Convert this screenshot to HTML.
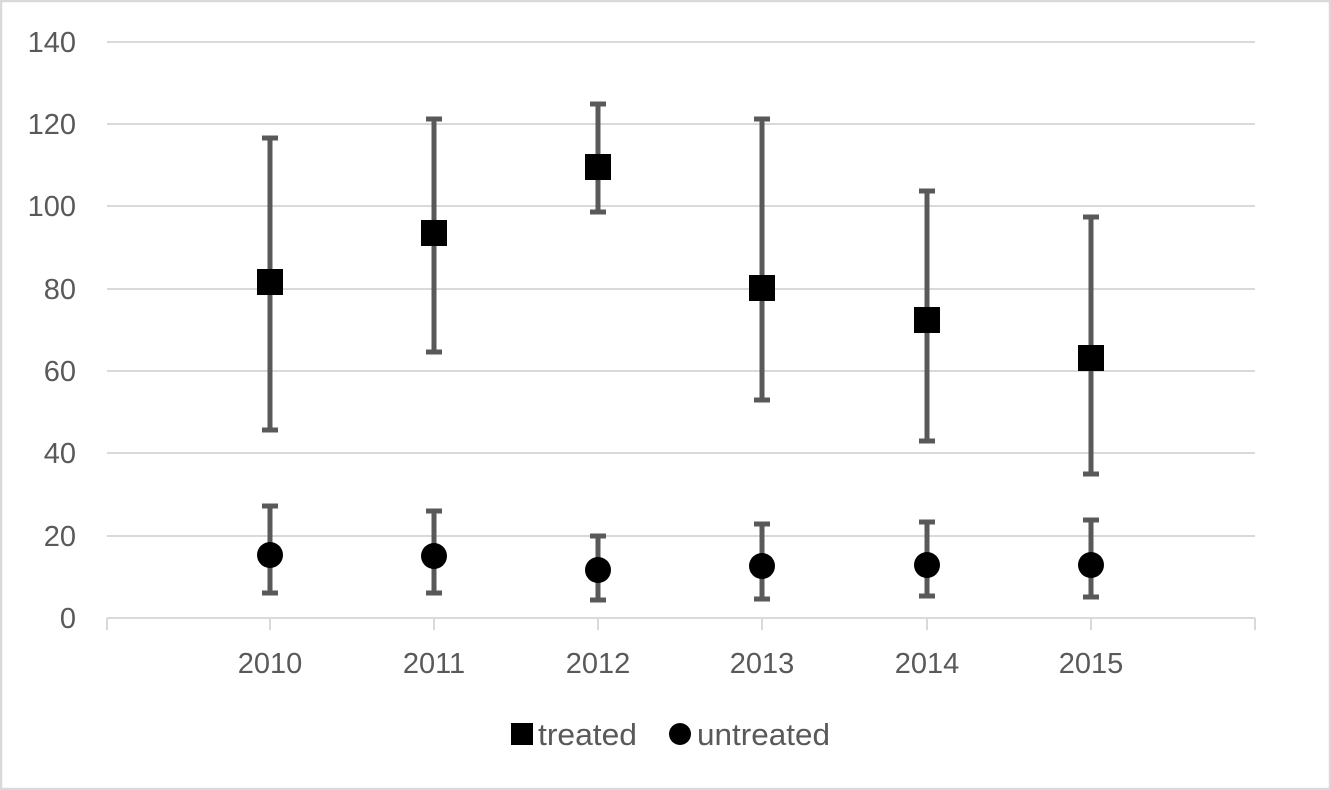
<!DOCTYPE html>
<html><head><meta charset="utf-8"><style>
html,body{margin:0;padding:0;background:#fff;}
svg{display:block;}
text{font-family:"Liberation Sans",sans-serif;fill:#595959;}
</style></head><body>
<svg width="1331" height="790" viewBox="0 0 1331 790" xmlns="http://www.w3.org/2000/svg">
<rect x="1" y="1" width="1329" height="788" fill="#fff" stroke="#d9d9d9" stroke-width="2.5"/>
<g stroke="#d9d9d9" stroke-width="2">
<line x1="107" y1="42" x2="1255" y2="42"/>
<line x1="107" y1="124" x2="1255" y2="124"/>
<line x1="107" y1="206" x2="1255" y2="206"/>
<line x1="107" y1="289" x2="1255" y2="289"/>
<line x1="107" y1="371" x2="1255" y2="371"/>
<line x1="107" y1="453" x2="1255" y2="453"/>
<line x1="107" y1="536" x2="1255" y2="536"/>
<line x1="107" y1="618" x2="1255" y2="618"/>
<line x1="107" y1="618" x2="107" y2="630"/>
<line x1="270" y1="618" x2="270" y2="630"/>
<line x1="434" y1="618" x2="434" y2="630"/>
<line x1="598" y1="618" x2="598" y2="630"/>
<line x1="762" y1="618" x2="762" y2="630"/>
<line x1="927" y1="618" x2="927" y2="630"/>
<line x1="1091" y1="618" x2="1091" y2="630"/>
<line x1="1255" y1="618" x2="1255" y2="630"/>
</g>
<g font-size="29" text-anchor="end">
<text x="76" y="52">140</text>
<text x="76" y="134">120</text>
<text x="76" y="216">100</text>
<text x="76" y="299">80</text>
<text x="76" y="381">60</text>
<text x="76" y="463">40</text>
<text x="76" y="546">20</text>
<text x="76" y="628">0</text>
</g>
<g font-size="29" text-anchor="middle">
<text x="270" y="673">2010</text>
<text x="434" y="673">2011</text>
<text x="598" y="673">2012</text>
<text x="762" y="673">2013</text>
<text x="927" y="673">2014</text>
<text x="1091" y="673">2015</text>
</g>
<g stroke="#595959" stroke-width="5" fill="none">
<path d="M270 138V430M262 138H278M262 430H278"/>
<path d="M434 119V352M426 119H442M426 352H442"/>
<path d="M598 104V212M590 104H606M590 212H606"/>
<path d="M762 119V400M754 119H770M754 400H770"/>
<path d="M927 191V441M919 191H935M919 441H935"/>
<path d="M1091 217V474M1083 217H1099M1083 474H1099"/>
<path d="M270 506V593M262 506H278M262 593H278"/>
<path d="M434 511V593M426 511H442M426 593H442"/>
<path d="M598 536V600M590 536H606M590 600H606"/>
<path d="M762 524V599M754 524H770M754 599H770"/>
<path d="M927 522V596M919 522H935M919 596H935"/>
<path d="M1091 520V597M1083 520H1099M1083 597H1099"/>
</g>
<g fill="#000">
<rect x="257" y="269" width="26" height="26"/>
<rect x="421" y="220" width="26" height="26"/>
<rect x="585" y="154" width="26" height="26"/>
<rect x="749" y="275" width="26" height="26"/>
<rect x="914" y="307" width="26" height="26"/>
<rect x="1078" y="345" width="26" height="26"/>
<circle cx="270" cy="555" r="13"/>
<circle cx="434" cy="556" r="13"/>
<circle cx="598" cy="570" r="13"/>
<circle cx="762" cy="566" r="13"/>
<circle cx="927" cy="565" r="13"/>
<circle cx="1091" cy="565" r="13"/>
<rect x="511" y="723" width="22" height="22"/>
<circle cx="680" cy="734" r="11"/>
</g>
<text x="538" y="745" font-size="31" textLength="99" lengthAdjust="spacingAndGlyphs">treated</text>
<text x="697" y="745" font-size="31" textLength="133" lengthAdjust="spacingAndGlyphs">untreated</text>
</svg>
</body></html>
